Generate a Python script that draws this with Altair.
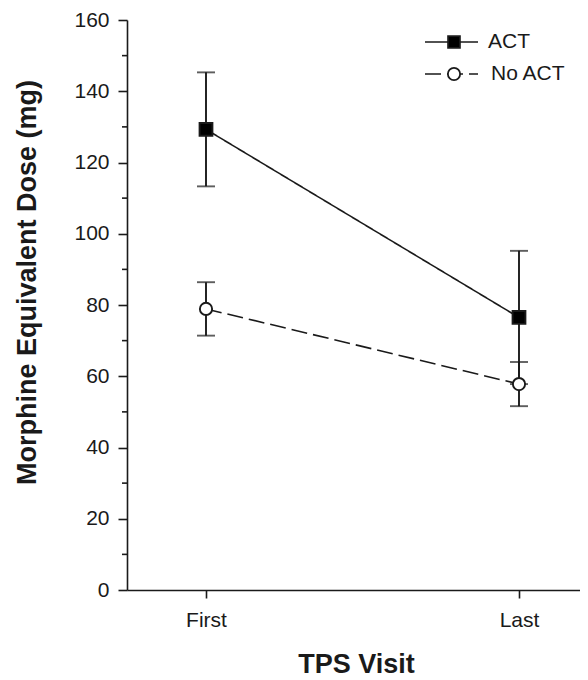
import json
import altair as alt
import pandas as pd

visits = ["First", "Last"]
groups = ["ACT", "No ACT"]
act_mean = [129.3, 76.5]
act_err = [16.0, 18.7]
noact_mean = [78.9, 57.8]
noact_err = [7.5, 6.2]
y_major = list(range(0, 161, 20))
y_minor = list(range(10, 160, 20))

rows = []
for g, means, errs in [(groups[0], act_mean, act_err), (groups[1], noact_mean, noact_err)]:
    for i, v in enumerate(visits):
        rows.append({"visit": v, "idx": i, "group": g, "mean": means[i],
                     "lo": means[i] - errs[i], "hi": means[i] + errs[i]})
df = pd.DataFrame(rows)

FONT = "Liberation Sans"
INK = "#1a1a1a"

xscale = alt.Scale(domain=[-0.2524, 1.1949], nice=False, zero=False)
yscale = alt.Scale(domain=[0, 160], nice=False)

x_axis = alt.Axis(
    values=[0, 1], labelExpr=f"{json.dumps(visits)}[datum.value]",
    title="TPS Visit", titleFontSize=27, titleFontWeight="bold",
    titleX=229, titleY=82, titleBaseline="alphabetic", titleAlign="center",
    labelFontSize=21, labelPadding=11, tickSize=8, grid=False,
)
y_axis = alt.Axis(
    values=y_major, tickSize=9,
    title="Morphine Equivalent Dose (mg)", titleFontSize=27, titleFontWeight="bold",
    titleAngle=270, titleX=-113, titleY=262, titleBaseline="top", titleAlign="center",
    labelFontSize=21, labelPadding=9, grid=False,
)

base = alt.Chart(df)
X = alt.X("idx:Q", scale=xscale, axis=x_axis)

err = base.mark_rule(color=INK, strokeWidth=1.9).encode(
    x=X, y=alt.Y("lo:Q", scale=yscale, axis=y_axis), y2="hi:Q")
cap_lo = base.mark_tick(color=INK, orient="horizontal", size=18, thickness=1.9).encode(
    x=X, y=alt.Y("lo:Q", scale=yscale))
cap_hi = base.mark_tick(color=INK, orient="horizontal", size=18, thickness=1.9).encode(
    x=X, y=alt.Y("hi:Q", scale=yscale))
lines = base.mark_line(color=INK, strokeWidth=1.6).encode(
    x=X, y=alt.Y("mean:Q", scale=yscale),
    strokeDash=alt.StrokeDash("group:N", scale=alt.Scale(domain=groups, range=[[1, 0], [16, 6]]), legend=None),
    detail="group:N")
points = base.mark_point(filled=True, stroke=INK, strokeWidth=1.9, opacity=1).encode(
    x=X, y=alt.Y("mean:Q", scale=yscale),
    shape=alt.Shape("group:N", scale=alt.Scale(domain=groups, range=["square", "circle"]), legend=None),
    fill=alt.Fill("group:N", scale=alt.Scale(domain=groups, range=["#000000", "#ffffff"]), legend=None),
    size=alt.Size("group:N", scale=alt.Scale(domain=groups, range=[165, 150]), legend=None))

# minor y ticks
minor = alt.Chart(pd.DataFrame({"v": y_minor})).mark_rule(color=INK, strokeWidth=1.6).encode(
    y=alt.Y("v:Q", scale=yscale), x=alt.value(-5), x2=alt.value(0))

# manual legend (top-right, inside plot)
leg = []
leg_y = [22, 54]
leg_dash = [[1, 0], [16, 6]]
leg_shape = ["square", "circle"]
leg_fill = ["#000000", "#ffffff"]
leg_size = [140, 150]
leg_text_x = [361, 364]
for i, g in enumerate(groups):
    d = alt.Chart(pd.DataFrame({"label": [g]}))
    leg.append(d.mark_rule(color=INK, strokeWidth=1.6, strokeDash=leg_dash[i]).encode(
        x=alt.value(298), x2=alt.value(351), y=alt.value(leg_y[i])))
    leg.append(d.mark_point(filled=True, shape=leg_shape[i], fill=leg_fill[i], stroke=INK,
                            strokeWidth=1.8, size=leg_size[i], opacity=1).encode(
        x=alt.value(327), y=alt.value(leg_y[i])))
    leg.append(d.mark_text(align="left", baseline="middle", fontSize=21, font=FONT, color=INK).encode(
        x=alt.value(leg_text_x[i]), y=alt.value(leg_y[i]), text="label:N"))

chart = alt.layer(err, cap_lo, cap_hi, lines, points, minor, *leg).properties(
    width=453, height=570,
    autosize=alt.AutoSizeParams(type="none"),
    padding={"left": 119, "top": 12, "right": 0, "bottom": 90},
).configure(font=FONT).configure_view(stroke=None).configure_axis(
    domainColor=INK, domainWidth=1.6, tickColor=INK, tickWidth=1.6,
    labelColor=INK, titleColor=INK, labelFont=FONT, titleFont=FONT,
)

chart.save("out.html", embed_options={"renderer": "svg", "actions": False})
